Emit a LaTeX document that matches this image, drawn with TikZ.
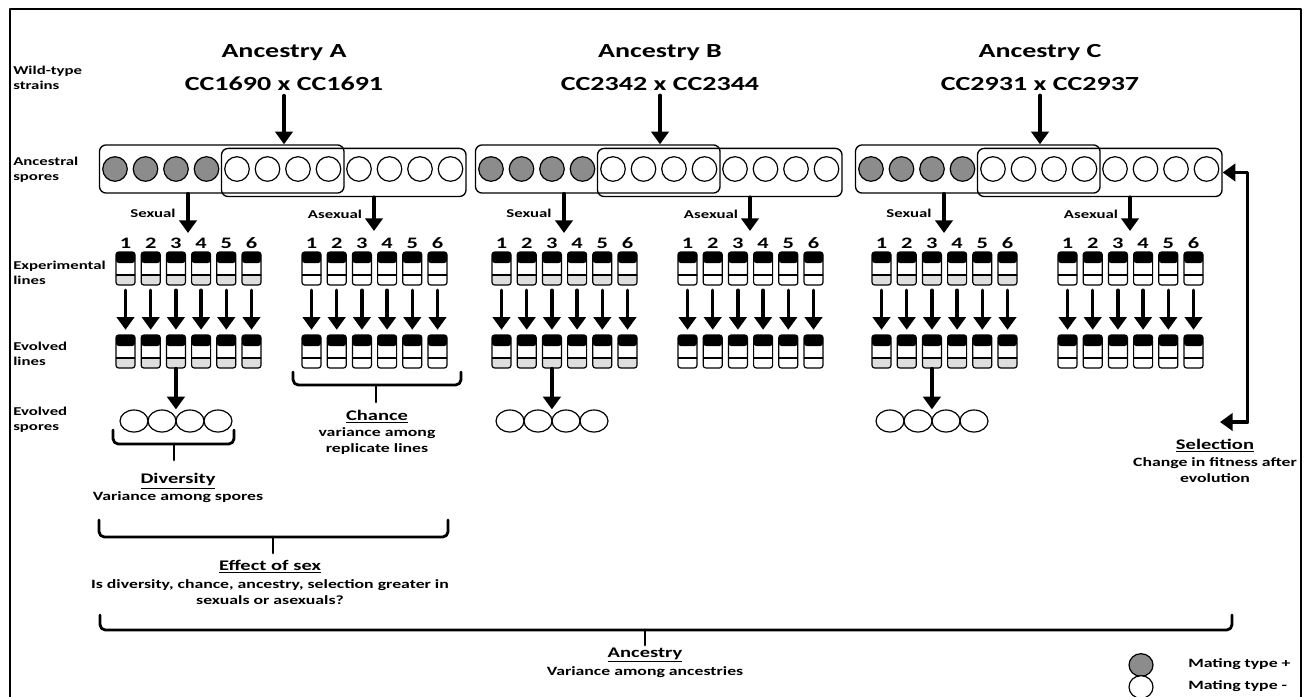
\documentclass[tikz,border=0pt]{standalone}
\usepackage{fontspec}
\setmainfont{Carlito}[FakeStretch=1.4]
\usetikzlibrary{arrows.meta,shapes.geometric,fit}
\definecolor{sporegray}{RGB}{140,140,140}
\definecolor{tubegray}{RGB}{222,222,222}

% bracket: x left, x right, y top, y bottom, x middle, y of tick end
\newcommand{\brak}[6]{%
  \draw[brk] (#1,#3) -- (#1,#4) -- (#2,#4) -- (#2,#3);
  \draw[brk] (#5,#4) -- (#5,#6);}

\begin{document}
\begin{tikzpicture}[x=0.75pt,y=-0.75pt, line cap=round, line join=round]

\tikzset{
  lbl/.style={font=\bfseries\fontsize{9}{11.2}\selectfont, align=left, anchor=west, inner sep=0pt},
  ttl/.style={font=\bfseries\fontsize{15}{18}\selectfont},
  num/.style={font=\bfseries\fontsize{12}{14}\selectfont, inner sep=0pt},
  sm/.style={font=\bfseries\fontsize{9}{11}\selectfont, inner sep=0pt},
  head/.style={font=\bfseries\fontsize{11}{13}\selectfont, inner sep=0pt},
  sub/.style={font=\bfseries\fontsize{9.5}{12}\selectfont, align=center, inner sep=0pt},
  spore/.style={circle, draw, line width=0.9pt, minimum size=18.4pt, inner sep=0pt},
  espore/.style={ellipse, draw, line width=0.9pt, minimum width=21pt, minimum height=16.5pt, inner sep=0pt},
  sbox/.style={draw, rounded corners=5pt, line width=1pt, inner xsep=2pt, inner ysep=8.4pt},
  tube/.style={draw, line width=0.9pt, rounded corners=2pt, fill=white,
    minimum width=14.25pt, minimum height=24.75pt, inner sep=0pt,
    path picture={
      \fill[black] (path picture bounding box.north west) rectangle ([yshift=-8.25pt]path picture bounding box.north east);
      \fill[#1] (path picture bounding box.south west) rectangle ([yshift=7.5pt]path picture bounding box.south east);
      \draw[line width=0.9pt] ([yshift=7.5pt]path picture bounding box.south west) -- ([yshift=7.5pt]path picture bounding box.south east);
    }},
  arr/.style={-{Triangle[width=13pt,length=9.5pt]}, line width=2.6pt},
  brk/.style={line width=2.1pt, rounded corners=4pt}
}

\useasboundingbox (0,0) rectangle (1308,696);
\draw[line width=2.2pt] (10,700) -- (10,9) -- (1301,9) -- (1301,700);

% row labels
\node[lbl] (wt) at (13,78) {Wild-type\\strains};
\node[lbl] (as) at (13,170) {Ancestral\\spores};
\node[lbl] (el) at (13,273) {Experimental\\lines};
\node[lbl] (evl) at (13,354) {Evolved\\lines};
\node[lbl] (evs) at (13,420) {Evolved\\spores};

% three ancestries
\foreach \k/\off/\cross in {A/0/{CC1690 x CC1691}, B/376/{CC2342 x CC2344}, C/756/{CC2931 x CC2937}} {
  \node[ttl] (anc\k) at (284+\off,53) {Ancestry \k};
  \node[ttl] (cross\k) at (284+\off,84) {\cross};

  \foreach \i in {1,...,4}
    \node[spore, fill=sporegray] (s\k\i) at ({115+30.5*(\i-1)+\off},169) {};
  \foreach \i in {5,...,12}
    \node[spore, fill=white] (s\k\i) at ({115+30.5*(\i-1)+\off},169) {};
  \node[sbox, fit=(s\k1)(s\k8)] (boxL\k) {};
  \node[sbox, fit=(s\k5)(s\k12), yshift=-2.6pt] (boxR\k) {};

  \draw[arr] (cross\k.south) -- (cross\k.south |- boxL\k.north);

  \coordinate (sx\k) at (188+\off,233);
  \coordinate (ax\k) at (374+\off,231);
  \draw[arr] (boxL\k.south -| sx\k) -- (sx\k);
  \draw[arr] (boxR\k.south -| ax\k) -- (ax\k);
  \node[sm] (sxl\k) at (153+\off,213) {Sexual};
  \node[sm] (axl\k) at (335+\off,214) {Asexual};

  \foreach \j in {1,...,6} {
    \node[num] (n\k\j) at ({125.5+25.2*(\j-1)+\off},243) {\j};
    \node[tube=tubegray] (et\k\j) at ({125.5+25.2*(\j-1)+\off},268.5) {};
    \node[tube=tubegray] (vt\k\j) at ({125.5+25.2*(\j-1)+\off},351.5) {};
    \draw[arr, shorten <=3.5pt, shorten >=3.5pt] (et\k\j) -- (vt\k\j);

    \node[num] (m\k\j) at ({311.5+25.2*(\j-1)+\off},243) {\j};
    \node[tube=white] (ea\k\j) at ({311.5+25.2*(\j-1)+\off},268.5) {};
    \node[tube=white] (va\k\j) at ({311.5+25.2*(\j-1)+\off},351.5) {};
    \draw[arr, shorten <=3.5pt, shorten >=3.5pt] (ea\k\j) -- (va\k\j);
  }

  \foreach \i/\dx in {1/-42,2/-14,3/14,4/42}
    \node[espore] (es\k\i) at ({176+\dx+\off},421) {};
  \draw[arr] (vt\k3.south) -- (vt\k3.south |- es\k2.north);
}

% selection loop
\coordinate (selend) at (1220,422);
\draw[arr, {Triangle[width=13pt,length=9.5pt]}-{Triangle[width=13pt,length=9.5pt]}] (boxRC.east) -- ++(25,0) |- (selend);

% brackets
\brak{113}{234}{430}{444}{174}{460}
\brak{293}{461}{372}{385}{376}{402}
\brak{99}{448}{520}{537}{273}{553}
\brak{100}{1232}{615}{630}{645}{645}

\node[head] (divh) at (178,481) {\underline{Diversity}};
\node[sub] (divt) at (178,497) {Variance among spores};
\node[head] (chh) at (377,417) {\underline{Chance}};
\node[sub] (cht) at (377,441) {variance among\\replicate lines};
\node[head] (sxh) at (270,567) {\underline{Effect of sex}};
\node[sub] (sxt) at (270,592) {Is diversity, chance, ancestry, selection greater in\\sexuals or asexuals?};
\node[head] (ach) at (645,655) {\underline{Ancestry}};
\node[sub] (act) at (645,672) {Variance among ancestries};
\node[head] (selh) at (1215,446) {\underline{Selection}};
\node[sub] (selt) at (1215,470.5) {Change in fitness after\\evolution};

% legend
\node[ellipse, draw, line width=0.9pt, fill=sporegray, minimum width=18pt, minimum height=17pt, inner sep=0pt] (lgp) at (1141,665) {};
\node[ellipse, draw, line width=0.9pt, fill=white, minimum width=18pt, minimum height=17pt, inner sep=0pt] (lgm) at (1141,687) {};
\node[sub, anchor=west] (lgpt) at (1188,664) {Mating type +};
\node[sub, anchor=west] (lgmt) at (1188,686) {Mating type -};

\end{tikzpicture}
\end{document}
